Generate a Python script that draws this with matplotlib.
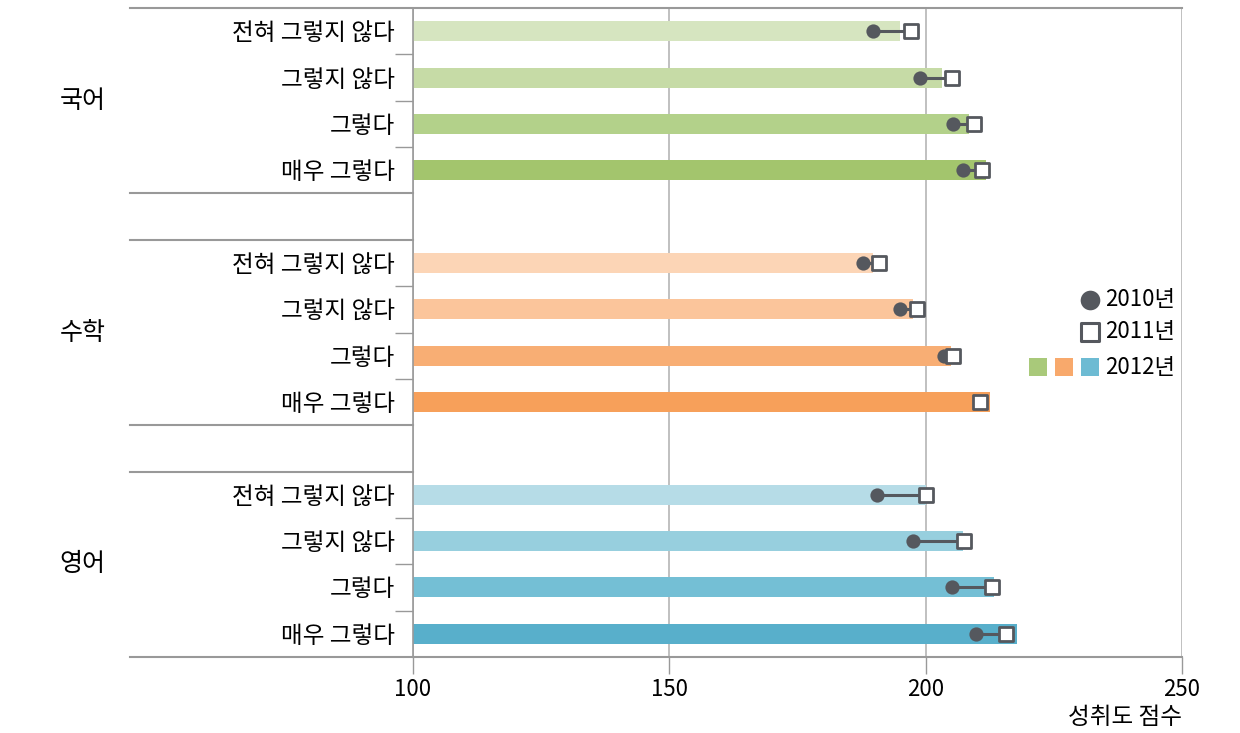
import matplotlib.pyplot as plt

plt.rcParams['font.family'] = ['Noto Sans CJK KR', 'DejaVu Sans']

subjects = ["국어", "수학", "영어"]
answers = ["전혀 그렇지 않다", "그렇지 않다", "그렇다", "매우 그렇다"]

# score by answer, per subject
score_2010 = {
    "국어": [189.8, 198.8, 205.4, 207.3],
    "수학": [187.8, 194.9, 203.6, 210.6],
    "영어": [190.6, 197.6, 205.1, 209.9],
}
score_2011 = {
    "국어": [197.2, 205.2, 209.4, 210.9],
    "수학": [190.9, 198.4, 205.3, 210.6],
    "영어": [200.1, 207.5, 212.9, 215.6],
}
score_2012 = {
    "국어": [195.0, 203.1, 208.4, 211.8],
    "수학": [189.8, 197.5, 205.0, 212.5],
    "영어": [200.1, 207.2, 213.4, 217.9],
}
legend_years = ["2010년", "2011년", "2012년"]

bar_colors = {
    "국어": ["#d6e5c0", "#c6dba6", "#b3d18a", "#a3c56d"],
    "수학": ["#fcd5b6", "#fbc59b", "#f8ae74", "#f7a05a"],
    "영어": ["#b6dce7", "#97cfde", "#74bfd5", "#58afcb"],
}
legend_swatch = ["#a9c97a", "#f8a96c", "#6dbbd3"]
dot_color = "#55585e"
line_gray = "#999999"

W, H = 1240, 733
fig = plt.figure(figsize=(W / 100, H / 100), dpi=100)
ax = fig.add_axes([413 / W, (H - 657) / H, (1182 - 413) / W, (657 - 8) / H])

ytick_pos, ytick_lab, sep_pos = [], [], []
for g, subj in enumerate(subjects):
    base = g * 5
    pos = [base + i for i in range(len(answers))]
    ax.barh(pos, [v - 100 for v in score_2012[subj]], left=100, height=0.43,
            color=bar_colors[subj], zorder=1)
    for p, a, b in zip(pos, score_2010[subj], score_2011[subj]):
        ax.plot([a, b], [p, p], color=dot_color, lw=2.2, zorder=2)
    ax.scatter(score_2010[subj], pos, s=105, color=dot_color, zorder=3, linewidths=0)
    ax.scatter(score_2011[subj], pos, s=90, marker="s", facecolor="white",
               edgecolor=dot_color, linewidths=2, zorder=4)
    ytick_pos += pos
    ytick_lab += answers
    sep_pos += [base + 0.5, base + 1.5, base + 2.5]
    ax.text(-0.46, base + 1.5, subj, transform=ax.get_yaxis_transform(),
            ha="left", va="center", fontsize=18, fontweight="medium")

ax.set_xlim(100, 250)
ax.set_ylim(13.5, -0.5)
ax.set_xticks([100, 150, 200, 250])
ax.tick_params(axis="x", length=12, width=1, color=line_gray, labelsize=16, pad=3)
ax.set_yticks(ytick_pos)
ax.set_yticklabels(ytick_lab, fontsize=17)
ax.set_yticks(sep_pos, minor=True)
ax.tick_params(axis="y", which="major", length=0, pad=13)
ax.tick_params(axis="y", which="minor", length=13, width=1, color=line_gray)
ax.grid(axis="x", color="#b5b5b5", lw=1.2, zorder=0)
ax.set_axisbelow(True)
for s in ["top", "right"]:
    ax.spines[s].set_visible(False)
ax.spines["left"].set_color(line_gray)
ax.spines["bottom"].set_color(line_gray)
ax.spines["left"].set_linewidth(1.2)
ax.spines["bottom"].set_linewidth(1.5)

# group separator lines on the left side
tr = ax.get_yaxis_transform()
for y in [3.5, 4.5, 8.5, 9.5]:
    ax.plot([-0.368, 0], [y, y], color=line_gray, lw=1.5, transform=tr, clip_on=False)
ax.plot([-0.368, 1], [-0.5, -0.5], color=line_gray, lw=1.5, transform=tr, clip_on=False)
ax.plot([-0.368, 0], [13.5, 13.5], color=line_gray, lw=1.5, transform=tr, clip_on=False)

fig.text(1182 / W, 1 - 718 / H, "성취도 점수", ha="right", va="center", fontsize=17)

# legend
lg = fig.add_axes([0, 0, 1, 1])
lg.set_xlim(0, W)
lg.set_ylim(H, 0)
lg.axis("off")
lg.scatter([1090], [300], s=200, color=dot_color, linewidths=0)
lg.scatter([1090], [332], s=150, marker="s", facecolor="white", edgecolor=dot_color, linewidths=2.2)
for xc, c in zip([1038, 1064, 1090], legend_swatch):
    lg.scatter([xc], [367], s=185, marker="s", color=c, linewidths=0)
for yc, t in zip([300, 332, 367], legend_years):
    lg.text(1105, yc, t, ha="left", va="center", fontsize=16)

fig.savefig("out.png", dpi=100)
